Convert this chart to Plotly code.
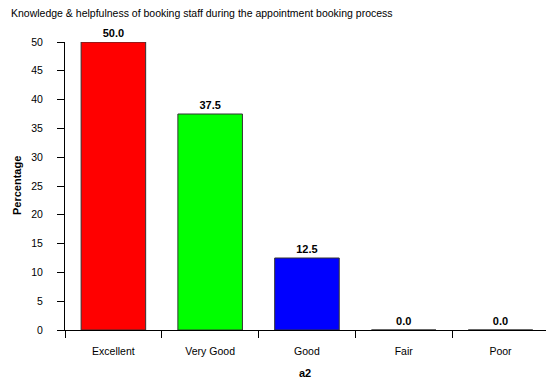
import plotly.graph_objects as go

categories = ["Excellent", "Very Good", "Good", "Fair", "Poor"]
percentages = [50.0, 37.5, 12.5, 0.0, 0.0]
bar_colors = ["#FF0000", "#00FF00", "#0000FF", "#00FFFF", "#FF00FF"]
y_ticks = [0, 5, 10, 15, 20, 25, 30, 35, 40, 45, 50]

FONT = "Liberation Sans, Arial, sans-serif"
W, H = 546, 383
PLOT_TOP, PLOT_BOTTOM, PLOT_LEFT = 42, 330, 65

fig = go.Figure(
    go.Bar(
        x=categories,
        y=percentages,
        marker=dict(color=bar_colors, line=dict(color="#333333", width=1)),
        width=0.667,
        text=[f"{v:.1f}" for v in percentages],
        textposition="outside",
        cliponaxis=False,
        textfont=dict(family=FONT, size=11, color="#000000", weight="bold"),
        hoverinfo="skip",
    )
)

fig.update_layout(
    width=W,
    height=H,
    margin=dict(l=PLOT_LEFT, r=0, t=PLOT_TOP, b=H - PLOT_BOTTOM, pad=0),
    paper_bgcolor="white",
    plot_bgcolor="white",
    showlegend=False,
    font=dict(family=FONT, size=10.5, color="#000000"),
    title=dict(
        text="Knowledge & helpfulness of booking staff during the appointment booking process",
        x=11 / W,
        xref="container",
        xanchor="left",
        y=1 - 13.5 / H,
        yref="container",
        yanchor="middle",
        font=dict(family=FONT, size=10.5, color="#000000"),
    ),
)

fig.update_xaxes(
    type="category",
    range=[-0.5, 4.47],
    tickson="boundaries",
    ticks="outside",
    ticklen=7,
    tickwidth=1,
    tickcolor="#000000",
    showline=True,
    linecolor="#000000",
    linewidth=1,
    showgrid=False,
    zeroline=False,
    ticklabelstandoff=11,
    tickfont=dict(family=FONT, size=10.5, color="#000000"),
)

fig.update_yaxes(
    range=[0, 50],
    tickvals=y_ticks,
    ticks="outside",
    ticklen=7,
    tickwidth=1,
    tickcolor="#000000",
    showline=True,
    linecolor="#000000",
    linewidth=1,
    showgrid=False,
    zeroline=False,
    ticklabelstandoff=12,
    tickfont=dict(family=FONT, size=10.5, color="#000000"),
)

plot_h = PLOT_BOTTOM - PLOT_TOP
plot_w = W - PLOT_LEFT
fig.add_annotation(
    text="<b>a2</b>", xref="paper", yref="paper",
    x=(305 - PLOT_LEFT) / plot_w, y=-(373 - PLOT_BOTTOM) / plot_h,
    xanchor="center", yanchor="middle", showarrow=False,
    font=dict(family=FONT, size=11, color="#000000"),
)
fig.add_annotation(
    text="<b>Percentage</b>", xref="paper", yref="paper",
    x=-(PLOT_LEFT - 17) / plot_w, y=(PLOT_BOTTOM - 186) / plot_h,
    xanchor="center", yanchor="middle", textangle=-90, showarrow=False,
    font=dict(family=FONT, size=11, color="#000000"),
)

fig.write_html(
    "out.html",
    config={"displayModeBar": False, "staticPlot": True},
    post_script="document.body.style.margin='0';document.body.style.overflow='hidden';",
)
